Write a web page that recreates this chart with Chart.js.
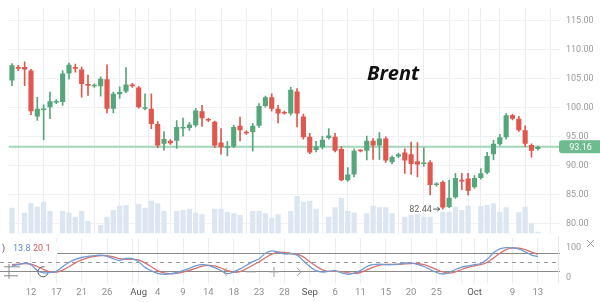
<!DOCTYPE html>
<html><head><meta charset="utf-8">
<script src="https://cdn.jsdelivr.net/npm/chart.js@4.4.0/dist/chart.umd.min.js"></script>
<style>
html,body{margin:0;padding:0;background:#fff;overflow:hidden}
#wrap{position:relative;width:600px;height:302px;background:#fff}
#c1{position:absolute;left:0;top:0}
#c2{position:absolute;left:0;top:236px}
</style></head><body>
<div id="wrap"><canvas id="c1" width="600" height="236"></canvas><canvas id="c2" width="600" height="66"></canvas></div>
<script>
// ---- data ----
const dates = ['07-08','07-10','07-11','07-12','07-13','07-14','07-15','07-17','07-18','07-19','07-20','07-21','07-22','07-24','07-25','07-26','07-27','07-28','07-29','07-31',
'08-01','08-02','08-03','08-04','08-05','08-07','08-08','08-09','08-10','08-11','08-12','08-14','08-15','08-16','08-17','08-18','08-19','08-21','08-22','08-23','08-24','08-25','08-26','08-28','08-29','08-30','08-31',
'09-01','09-02','09-04','09-05','09-06','09-07','09-08','09-09','09-11','09-12','09-13','09-14','09-15','09-16','09-18','09-19','09-20','09-21','09-22','09-23','09-25','09-26','09-27','09-28','09-29','09-30',
'10-02','10-03','10-04','10-05','10-06','10-07','10-09','10-10','10-11','10-12','10-13'];
const open  = [104.6,106.9,106.9,106.3,98.4,99.5,100.0,100.8,100.9,105.8,106.9,106.5,104.0,103.6,103.6,104.8,99.7,102.2,102.7,103.9,
103.4,99.7,99.7,97.1,93.7,94.2,94.2,96.3,96.4,96.9,99.3,97.9,97.5,93.9,93.0,93.2,96.8,95.7,95.7,96.8,100.2,101.7,99.7,99.1,98.9,102.7,98.4,
94.9,92.6,93.1,94.7,94.9,92.8,87.4,88.4,92.6,92.5,94.2,93.4,94.6,90.5,91.5,92.2,91.9,90.7,90.2,90.5,86.6,87.1,82.8,84.5,87.5,87.7,
86.2,87.8,88.7,91.9,93.6,94.8,98.6,98.0,96.0,93.5,92.8];
const high  = [107.5,107.2,107.8,106.5,101.7,100.4,102.6,101.3,106.3,107.6,107.4,106.9,105.5,104.0,105.2,107.3,102.6,103.5,106.8,104.1,
103.6,102.3,102.3,97.5,95.8,94.4,97.7,98.1,97.4,99.8,100.3,98.1,97.6,96.3,94.1,96.9,98.3,95.9,97.2,100.6,101.9,102.3,100.3,99.3,103.4,103.2,98.8,
95.5,94.1,95.0,96.3,95.5,93.2,89.6,92.8,92.7,95.0,94.6,95.6,94.9,91.6,92.1,92.8,94.0,93.9,93.0,90.8,87.0,87.3,87.4,88.6,88.6,88.6,
88.2,89.4,92.2,94.3,95.3,98.9,98.8,98.4,96.8,93.7,93.3];
const low   = [103.7,106.3,103.7,98.7,97.7,94.4,98.0,100.6,100.3,104.8,106.0,101.7,102.0,103.4,101.9,99.0,99.0,101.5,102.5,103.4,
99.8,99.5,96.3,93.0,92.6,93.6,92.9,95.0,96.0,96.6,96.7,97.5,93.0,91.9,91.6,93.0,94.2,95.3,92.4,96.5,100.0,99.3,97.3,98.8,98.6,96.6,94.5,
92.0,92.3,92.8,94.5,92.3,87.3,87.2,88.0,92.3,90.9,91.0,91.0,90.5,90.2,91.3,88.6,88.4,88.0,89.8,84.9,86.4,82.44,82.7,84.3,85.8,84.9,
86.0,87.6,88.5,90.9,93.4,94.5,97.8,95.8,93.2,91.4,92.6];
const close = [107.2,106.6,106.5,99.3,99.7,99.7,101.0,101.0,105.8,107.3,106.6,104.0,103.7,103.8,104.9,99.7,102.3,102.6,103.9,103.6,
100.0,100.0,97.1,93.4,94.5,93.8,96.6,96.6,97.0,99.4,98.1,97.7,93.4,93.1,93.2,96.6,96.0,95.5,96.8,100.2,101.7,99.7,98.9,98.9,103.0,98.9,94.8,
92.2,93.2,94.4,95.1,92.5,87.4,88.4,92.5,92.4,94.2,93.4,94.6,90.8,91.4,91.9,90.8,90.2,90.1,90.4,86.6,86.8,82.7,84.4,87.8,87.2,85.6,
87.8,88.6,91.6,93.7,94.8,98.6,98.0,96.0,93.7,92.5,93.16];
const volume = [258,0,208,305,268,318,225,0,225,208,168,225,125,0,85,168,235,278,285,0,
295,258,328,302,225,0,225,235,248,208,192,0,248,248,215,202,185,0,225,225,202,158,192,0,225,375,318,
328,248,0,168,262,358,225,208,0,202,278,262,262,202,0,168,185,195,168,168,0,218,218,268,235,278,
0,275,285,302,218,262,0,212,268,102,18];
const stochK = [38,42,47,42,22,15,16,20,35,50,60,66,70,72,74,70,62,56,63,62,
52,33,22,13,10,12,16,22,30,38,42,40,32,22,12,18,28,40,52,62,80,88,84,78,78,74,55,
36,22,17,20,22,15,10,14,22,36,42,44,42,42,44,48,47,43,36,26,16,11,16,26,34,38,
42,46,60,82,95,99,98,95,85,74,69];
const stochD = [42,44,46,44,36,26,18,17,24,35,48,58,65,69,72,72,68,62,60,60,
58,48,35,22,15,12,13,17,23,30,37,40,38,31,22,17,19,29,40,52,65,77,84,83,80,77,68,
52,37,25,20,20,19,15,13,16,25,33,40,43,43,43,45,46,46,42,35,26,18,14,18,26,33,
38,42,50,64,80,92,98,97,92,84,77];
const priceTicks = [80,85,90,95,100,105,110,115];
const stochLevels = [20,50,80];
const stochTicks = [0,100];
const tickDates = ['07-12','07-17','07-21','07-26','07-31','08-01','08-04','08-09','08-14','08-18','08-23','08-28','09-01','09-06','09-11','09-15','09-20','09-25','09-29','10-02','10-04','10-09','10-13'];
const tickText  = ['12','17','21','26','','Aug','4','9','14','18','23','28','Sep','6','11','15','20','25','','Oct','','9','13'];
const monthText = ['Aug','Sep','Oct'];
const lastPrice = 93.16;
const titleText = 'Brent';
const legendK = '13.8', legendD = '20.1';

// ---- styling ----
const GREEN = '#56a67b', RED = '#e0574f';
const idx = dates.map((d, i) => i);
const up = close.map((c, i) => c >= open[i]);
const candleColors = up.map(u => u ? GREEN : RED);
const tickIdx = tickDates.map(d => dates.indexOf(d));
const X_MIN = -0.5, X_MAX = 86.5;
const AXIS_W = 40;
const PAD_L = 8.8;
const LABEL_FONT = '9px Roboto';

function xScale() {
  return {
    type: 'linear', min: X_MIN, max: X_MAX, offset: false,
    afterBuildTicks: s => { s.ticks = tickIdx.map(v => ({ value: v })); },
    grid: { color: '#eaedf1', drawTicks: false, lineWidth: 1 },
    border: { display: false },
    ticks: { display: false }
  };
}
function drawYLabels(chart, values, fmt) {
  const { ctx, chartArea: a, scales: { y } } = chart;
  ctx.save();
  ctx.fillStyle = '#9a9a9a'; ctx.font = LABEL_FONT; ctx.textAlign = 'left'; ctx.textBaseline = 'middle';
  values.forEach(v => ctx.fillText(fmt(v), a.right + 6, y.getPixelForValue(v) + 0.5));
  ctx.restore();
}

const topOverlay = {
  id: 'topOverlay',
  beforeDatasetsDraw(chart) {
    const { ctx, chartArea: a, scales: { y } } = chart;
    const py = y.getPixelForValue(lastPrice);
    ctx.save();
    ctx.strokeStyle = '#a3d5b8'; ctx.lineWidth = 2;
    ctx.beginPath(); ctx.moveTo(a.left, py); ctx.lineTo(a.right, py); ctx.stroke();
    ctx.restore();
  },
  afterDraw(chart) {
    const { ctx, chartArea: a, scales: { x, y } } = chart;
    drawYLabels(chart, priceTicks, v => v.toFixed(2));
    ctx.save();
    // last price tag
    const py = y.getPixelForValue(lastPrice);
    ctx.fillStyle = '#6dbb8f';
    ctx.beginPath();
    const l = a.right - 1, t = py - 6.5, h = 13, r = 3;
    ctx.moveTo(600, t); ctx.lineTo(l + r, t); ctx.quadraticCurveTo(l, t, l, t + r);
    ctx.lineTo(l, t + h - r); ctx.quadraticCurveTo(l, t + h, l + r, t + h); ctx.lineTo(600, t + h); ctx.closePath();
    ctx.fill();
    ctx.fillStyle = '#fff'; ctx.font = LABEL_FONT; ctx.textAlign = 'center'; ctx.textBaseline = 'middle';
    ctx.fillText(lastPrice.toFixed(2), (l + 600) / 2 + 1, py + 0.5);
    // title
    ctx.fillStyle = '#111'; ctx.font = 'italic bold 20px "Open Sans"';
    ctx.textAlign = 'left'; ctx.textBaseline = 'alphabetic';
    ctx.fillText(titleText, 367, 80);
    // min low annotation
    let mi = 0; low.forEach((v, i) => { if (v < low[mi]) mi = i; });
    const mx = x.getPixelForValue(mi), my = y.getPixelForValue(low[mi]);
    ctx.fillStyle = '#666'; ctx.font = LABEL_FONT; ctx.textAlign = 'right'; ctx.textBaseline = 'middle';
    ctx.fillText(low[mi].toFixed(2), mx - 11, my + 0.5);
    ctx.strokeStyle = '#555'; ctx.lineWidth = 1;
    ctx.beginPath(); ctx.moveTo(mx - 9.5, my); ctx.lineTo(mx - 3, my); ctx.stroke();
    ctx.beginPath(); ctx.moveTo(mx - 5.5, my - 2); ctx.lineTo(mx - 3, my); ctx.lineTo(mx - 5.5, my + 2); ctx.stroke();
    ctx.restore();
  }
};

new Chart(document.getElementById('c1'), {
  type: 'bar',
  data: {
    datasets: [
      { data: idx.map(i => ({ x: i, y: [open[i], close[i]] })), backgroundColor: candleColors, yAxisID: 'y', order: 1,
        grouped: false, barPercentage: 0.9, categoryPercentage: 0.9, minBarLength: 1.5 },
      { data: idx.map(i => ({ x: i, y: [low[i], high[i]] })), backgroundColor: candleColors, yAxisID: 'y', order: 2,
        grouped: false, barThickness: 1 },
      { data: idx.map(i => ({ x: i, y: volume[i] })), backgroundColor: '#dce6f2', yAxisID: 'yv', order: 3,
        grouped: false, barPercentage: 0.9, categoryPercentage: 0.92 }
    ]
  },
  options: {
    responsive: false, animation: false, devicePixelRatio: 1,
    layout: { padding: { left: PAD_L, top: 8, right: 0, bottom: 2.5 } },
    plugins: { legend: { display: false }, tooltip: { enabled: false } },
    scales: {
      x: Object.assign(xScale(), { afterFit: s => { s.height = 0; } }),
      y: {
        position: 'right', min: 78.24, max: 117.07,
        afterBuildTicks: s => { s.ticks = priceTicks.map(v => ({ value: v })); },
        ticks: { display: false },
        grid: { color: '#f0f1f3', drawTicks: false },
        border: { display: false },
        afterFit: s => { s.width = AXIS_W; }
      },
      yv: { display: false, min: 0, max: 2255 }
    }
  },
  plugins: [topOverlay]
});

const bottomOverlay = {
  id: 'bottomOverlay',
  beforeDatasetsDraw(chart) {
    const { ctx, chartArea: a, scales: { y } } = chart;
    ctx.save();
    stochLevels.forEach(v => {
      const py = Math.round(y.getPixelForValue(v)) + 0.5;
      ctx.strokeStyle = v === 50 ? '#9a9a9a' : '#8a8a8a';
      ctx.lineWidth = 1;
      ctx.setLineDash(v === 50 ? [4, 4] : []);
      ctx.beginPath(); ctx.moveTo(0, py); ctx.lineTo(a.right, py); ctx.stroke();
    });
    ctx.setLineDash([]);
    ctx.strokeStyle = '#e6e8ec';
    ctx.beginPath(); ctx.moveTo(a.right - 1.5, 0); ctx.lineTo(a.right - 1.5, a.bottom); ctx.stroke();
    ctx.restore();
  },
  afterDraw(chart) {
    const { ctx, chartArea: a, scales: { x, y } } = chart;
    drawYLabels(chart, stochTicks, v => String(v));
    ctx.save();
    // x labels
    ctx.font = '9.5px Roboto'; ctx.textAlign = 'center'; ctx.textBaseline = 'middle';
    tickIdx.forEach((v, i) => {
      if (!tickText[i]) return;
      ctx.fillStyle = monthText.includes(tickText[i]) ? '#555' : '#8f8f8f';
      ctx.fillText(tickText[i], x.getPixelForValue(v), a.bottom + 10);
    });
    // legend values
    const ly = y.getPixelForValue(100) + 1;
    ctx.fillStyle = '#fff'; ctx.fillRect(0, ly - 6, 57, 12);
    ctx.font = '9px Roboto'; ctx.textBaseline = 'middle'; ctx.textAlign = 'left';
    ctx.fillStyle = '#555'; ctx.fillText(')', 2, ly);
    ctx.fillStyle = '#5b8ad0'; ctx.fillText(legendK, 13, ly);
    ctx.fillStyle = '#d05a5a'; ctx.fillText(legendD, 33, ly);
    // navigation controls (faint)
    const ny = y.getPixelForValue(20) + 0.5;
    ctx.strokeStyle = '#9a9a9a'; ctx.lineWidth = 1;
    ctx.beginPath(); ctx.moveTo(227, ny - 4); ctx.lineTo(223, ny); ctx.lineTo(227, ny + 4); ctx.stroke();
    ctx.beginPath(); ctx.moveTo(246, ny); ctx.lineTo(256, ny); ctx.stroke();
    ctx.beginPath(); ctx.moveTo(269, ny); ctx.lineTo(279, ny); ctx.moveTo(274, ny - 5); ctx.lineTo(274, ny + 5); ctx.stroke();
    ctx.beginPath(); ctx.moveTo(297, ny - 4); ctx.lineTo(301, ny); ctx.lineTo(297, ny + 4); ctx.stroke();
    ctx.strokeStyle = '#555';
    ctx.beginPath(); ctx.arc(43, ny, 5, 0.3, Math.PI * 1.6); ctx.stroke();
    ctx.strokeStyle = '#888';
    ctx.beginPath(); ctx.moveTo(4, ny - 5); ctx.lineTo(20, ny - 5); ctx.moveTo(4, ny + 4); ctx.lineTo(18, ny + 4); ctx.moveTo(9, ny - 8); ctx.lineTo(9, ny + 7); ctx.stroke();
    // close mark
    ctx.strokeStyle = '#999';
    ctx.beginPath(); ctx.moveTo(587, 4); ctx.lineTo(594, 11); ctx.moveTo(594, 4); ctx.lineTo(587, 11); ctx.stroke();
    ctx.restore();
  }
};

new Chart(document.getElementById('c2'), {
  type: 'line',
  data: {
    datasets: [
      { data: idx.map(i => ({ x: i, y: stochK[i] })), borderColor: '#6e9bd5', borderWidth: 1.3, pointRadius: 0, tension: 0.3 },
      { data: idx.map(i => ({ x: i, y: stochD[i] })), borderColor: '#d97070', borderWidth: 1.3, pointRadius: 0, tension: 0.3 }
    ]
  },
  options: {
    responsive: false, animation: false, devicePixelRatio: 1,
    layout: { padding: { left: PAD_L, top: 2, right: 0, bottom: 0 } },
    plugins: { legend: { display: false }, tooltip: { enabled: false } },
    scales: {
      x: Object.assign(xScale(), { afterFit: s => { s.height = 19; } }),
      y: {
        position: 'right', min: -19, max: 131,
        afterBuildTicks: s => { s.ticks = stochTicks.map(v => ({ value: v })); },
        ticks: { display: false },
        grid: { display: false },
        border: { display: false },
        afterFit: s => { s.width = AXIS_W; }
      }
    }
  },
  plugins: [bottomOverlay]
});
</script>
</body></html>
